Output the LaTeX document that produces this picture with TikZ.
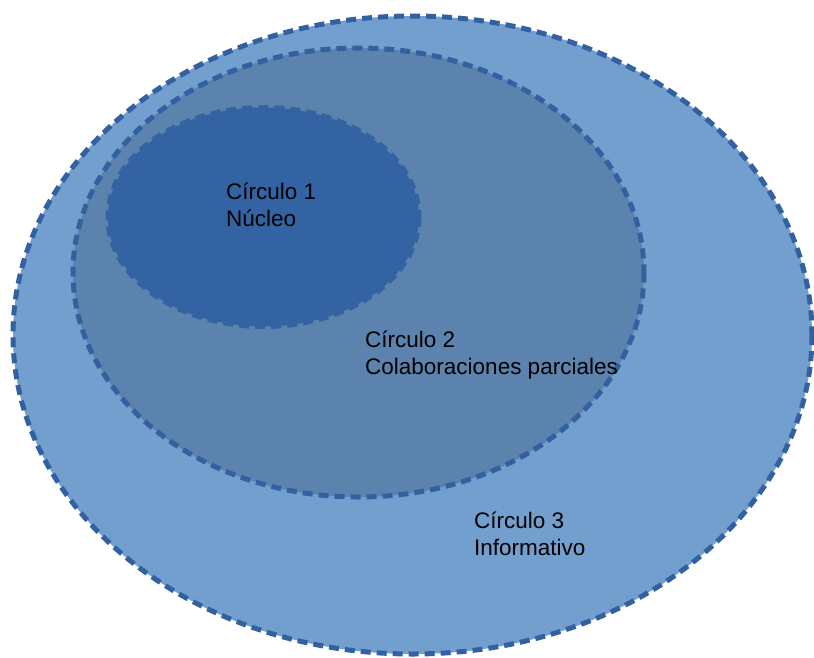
\documentclass[tikz,border=0pt]{standalone}
\usepackage{fontspec}
\setmainfont{Liberation Sans}
\definecolor{azulclaro}{RGB}{115,159,207}
\definecolor{azulmedio}{RGB}{91,131,174}
\definecolor{azuloscuro}{RGB}{52,99,163}
\definecolor{borde}{RGB}{50,96,160}
\tikzset{
  circulo/.style={line width=5pt,dash pattern=on 10pt off 6pt},
  rotulo/.style={anchor=base west,inner sep=0pt,align=left,text=black}
}
\begin{document}
\begin{tikzpicture}[x=1pt,y=-1pt,line join=round,font=\fontsize{22.5}{27}\selectfont]
	\useasboundingbox (0,0) rectangle (814,657);
	\clip (0,0) rectangle (814,657);
	\filldraw[circulo,fill=azulclaro,draw=borde] (412.5,335) ellipse [x radius=399.5,y radius=319];
	\filldraw[circulo,fill=azulmedio,draw=borde] (358.5,272.5) ellipse [x radius=285.5,y radius=224.5];
	\filldraw[circulo,fill=azuloscuro,draw=azuloscuro] (263.5,217) ellipse [x radius=155.5,y radius=109.5];
	\node[rotulo] (c1) at (226,226) {Círculo 1\\Núcleo};
	\node[rotulo] (c2) at (365,374) {Círculo 2\\Colaboraciones parciales};
	\node[rotulo] (c3) at (474,555) {Círculo 3\\Informativo};
\end{tikzpicture}
\end{document}
